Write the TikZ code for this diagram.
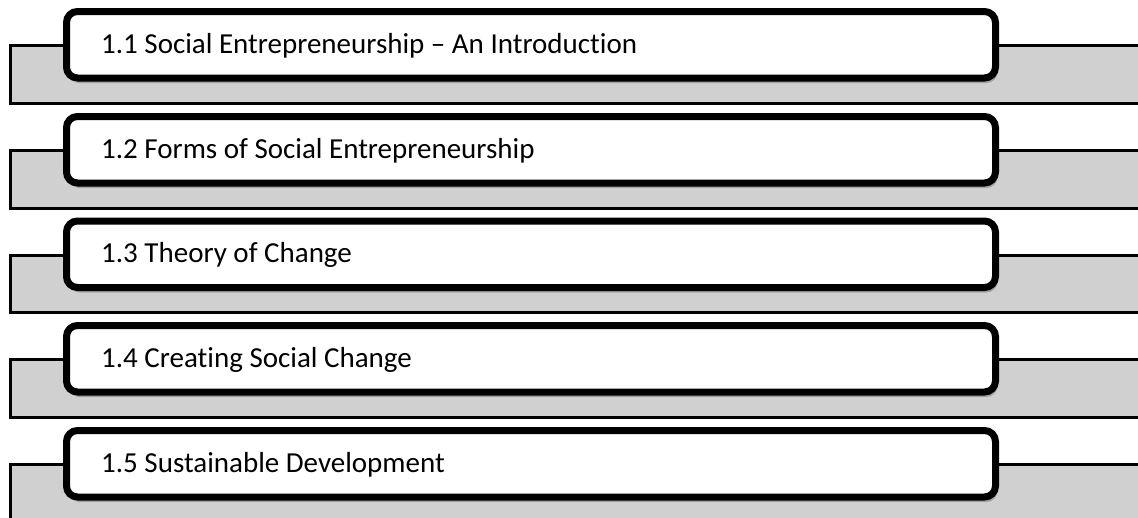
\documentclass[tikz,border=0pt]{standalone}
\usepackage{fontspec}
\setmainfont[Ligatures={NoCommon}]{Carlito}
\usetikzlibrary{shadows}
\definecolor{bandgray}{RGB}{208,208,208}
\tikzset{
  band/.style={draw=black, line width=3pt, fill=bandgray},
  topicbox/.style={draw=black, line width=7pt, fill=white, rounded corners=11pt,
    drop shadow={shadow xshift=2pt, shadow yshift=-5pt, opacity=0.35, fill=black!70}},
  topiclabel/.style={anchor=west, font=\fontsize{29}{34}\selectfont, text=black, inner sep=0pt},
}
\begin{document}
\begin{tikzpicture}[x=1pt,y=-1pt]
\useasboundingbox (0,0) rectangle (1138,517);
\clip (0,0) rectangle (1138,517);
\foreach \t/\txt/\nm in {8/{1.1 Social Entrepreneurship – An Introduction}/a,
  113/{1.2 Forms of Social Entrepreneurship}/b,
  217.5/{1.3 Theory of Change}/c,
  322/{1.4 Creating Social Change}/d,
  427/{1.5 Sustainable Development}/e}{
  \draw[band] (10.5,\t+37.5) rectangle (1150,\t+95);
  \path[topicbox] (66.5,\t+3.5) rectangle (995.5,\t+70);
  \node[topiclabel] (\nm) at (101,\t+37.5) {\txt};
}
\end{tikzpicture}
\end{document}
